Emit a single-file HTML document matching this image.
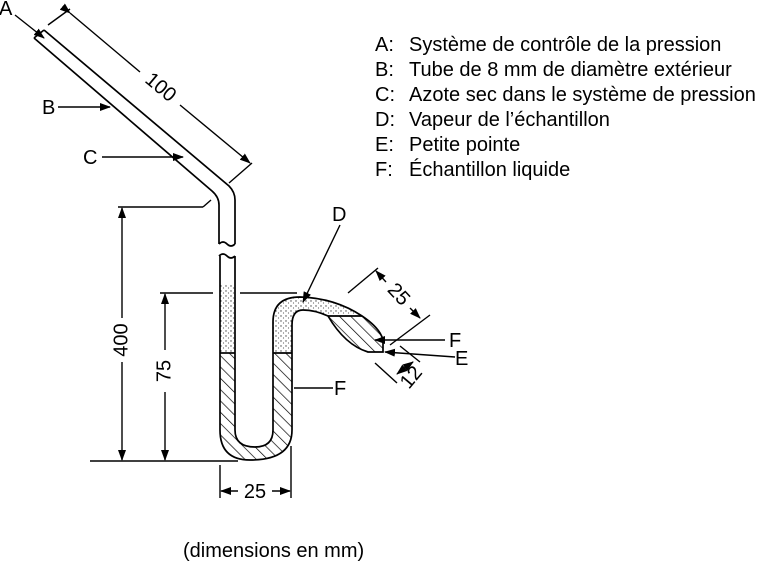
<!DOCTYPE html>
<html><head><meta charset="utf-8"><style>
html,body{margin:0;padding:0;background:#fff;}
svg{display:block;font-family:"Liberation Sans",sans-serif;}
</style></head><body>
<svg width="768" height="563" viewBox="0 0 768 563" xmlns="http://www.w3.org/2000/svg">
<defs>
<marker id="ar" markerWidth="11" markerHeight="8" refX="10" refY="4" orient="auto" markerUnits="userSpaceOnUse"><path d="M0,0 L11,4 L0,8 z" fill="#000"/></marker>
<pattern id="h" width="8" height="8" patternUnits="userSpaceOnUse" patternTransform="rotate(-45)"><line x1="0" y1="0" x2="0" y2="8" stroke="#000" stroke-width="1.4"/></pattern>
<pattern id="d" width="5" height="5" patternUnits="userSpaceOnUse"><circle cx="1" cy="1" r="0.7" fill="#444"/><circle cx="3.5" cy="3" r="0.6" fill="#666"/></pattern>
</defs>
<g fill="none" stroke="#000" stroke-width="1.7">
<path d="M34,38 L44,30"/>
<path d="M34,38 L212,191 Q219,197 219,205 L219,244"/>
<path d="M44,30 L229,186 Q235,192 235,200 L235,244"/>
<path d="M219,244 Q223,240 227,244 Q231,248 235,244"/>
<path d="M219,256 Q223,252 227,256 Q231,260 235,256"/>
</g>
<path d="M220,353 L220,430 Q220,460 250,460 Q292,460 292,430 L292,353 L273,353 L273,430 Q273,447 255,447 Q235,447 235,430 L235,353 Z" fill="url(#h)" stroke="none"/>
<rect x="220" y="285" width="15" height="68" fill="url(#d)"/>
<path d="M273,353 L273,322 Q273,297 300,297 Q335,298 362,316 L328,316 Q315,310 300,310 Q292,312 292,325 L292,353 Z" fill="url(#d)"/>
<path d="M328,316 L362,316 Q380,328 383,340 L383,352 L368,352 Q345,345 328,316 Z" fill="url(#h)" stroke="none"/>
<g fill="none" stroke="#000" stroke-width="1.7">
<path d="M220,256 L220,430 Q220,460 250,460 Q292,460 292,430 L292,325 Q292,310 303,310 Q315,310 328,316 Q345,345 368,352 L383,352 L383,340 Q380,328 362,316 Q335,298 300,297 Q273,297 273,322 L273,430 Q273,447 255,447 Q235,447 235,430 L235,256"/>
<line x1="220" y1="353" x2="235" y2="353"/><line x1="273" y1="353" x2="292" y2="353"/>
<line x1="328" y1="316" x2="362" y2="316"/>
</g>
<g fill="none" stroke="#000" stroke-width="1.4">
<line x1="48" y1="25" x2="70" y2="9"/><line x1="229" y1="183" x2="252" y2="163"/>
<line x1="70" y1="13" x2="140" y2="72" marker-start="url(#ar)"/>
<line x1="180" y1="105" x2="250" y2="163" marker-end="url(#ar)"/>
<line x1="118" y1="207" x2="203" y2="207"/><line x1="203" y1="207" x2="211" y2="200"/>
<line x1="90" y1="461" x2="238" y2="461"/>
<line x1="122" y1="318" x2="122" y2="208" marker-end="url(#ar)"/>
<line x1="122" y1="362" x2="122" y2="460" marker-end="url(#ar)"/>
<line x1="160" y1="293" x2="213" y2="293"/><line x1="240" y1="293" x2="297" y2="293"/>
<line x1="165" y1="350" x2="165" y2="294" marker-end="url(#ar)"/>
<line x1="165" y1="392" x2="165" y2="460" marker-end="url(#ar)"/>
<line x1="220" y1="465" x2="220" y2="498"/><line x1="291" y1="446" x2="291" y2="498"/>
<line x1="238" y1="491" x2="221" y2="491" marker-end="url(#ar)"/>
<line x1="272" y1="491" x2="290" y2="491" marker-end="url(#ar)"/>
<line x1="348" y1="293" x2="378" y2="268"/><line x1="390" y1="345" x2="430" y2="315"/>
<line x1="386" y1="282" x2="376" y2="271" marker-end="url(#ar)"/>
<line x1="410" y1="308" x2="420" y2="318" marker-end="url(#ar)"/>
<line x1="375" y1="363" x2="397" y2="383"/><line x1="400" y1="346" x2="420" y2="362"/>
<line x1="399" y1="372" x2="413" y2="362" marker-end="url(#ar)"/>
<line x1="407" y1="366" x2="397" y2="374" marker-end="url(#ar)"/>
<line x1="15" y1="15" x2="44" y2="38" marker-end="url(#ar)"/>
<line x1="58" y1="107" x2="110" y2="107" marker-end="url(#ar)"/>
<line x1="102" y1="157" x2="183" y2="157" marker-end="url(#ar)"/>
<line x1="340" y1="225" x2="303" y2="302" marker-end="url(#ar)"/>
<line x1="445" y1="340" x2="375" y2="340" marker-end="url(#ar)"/>
<line x1="455" y1="357" x2="385" y2="352" marker-end="url(#ar)"/>
<line x1="294" y1="388" x2="333" y2="388"/>
</g>
<g font-size="20" fill="#000">
<text x="-1" y="15">A</text>
<text x="42" y="114">B</text>
<text x="83" y="164">C</text>
<text x="332" y="221">D</text>
<text x="449" y="347">F</text>
<text x="455" y="365">E</text>
<text x="334" y="395">F</text>
<text transform="translate(160,88) rotate(40)" text-anchor="middle" dominant-baseline="middle">100</text>
<text transform="translate(122,340) rotate(-90)" text-anchor="middle" dominant-baseline="middle">400</text>
<text transform="translate(165,371) rotate(-90)" text-anchor="middle" dominant-baseline="middle">75</text>
<text x="255" y="498" text-anchor="middle">25</text>
<text transform="translate(398,295) rotate(47)" text-anchor="middle" dominant-baseline="middle">25</text>
<text transform="translate(412,378) rotate(-50)" text-anchor="middle" dominant-baseline="middle">12</text>
<text x="375" y="51">A:</text><text x="409" y="51">Système de contrôle de la pression</text>
<text x="375" y="76">B:</text><text x="409" y="76">Tube de 8 mm de diamètre extérieur</text>
<text x="375" y="101">C:</text><text x="409" y="101">Azote sec dans le système de pression</text>
<text x="375" y="126">D:</text><text x="409" y="126">Vapeur de l’échantillon</text>
<text x="375" y="151">E:</text><text x="409" y="151">Petite pointe</text>
<text x="375" y="176">F:</text><text x="409" y="176">Échantillon liquide</text>
<text x="183" y="557">(dimensions en mm)</text>
</g>
</svg>
</body></html>
